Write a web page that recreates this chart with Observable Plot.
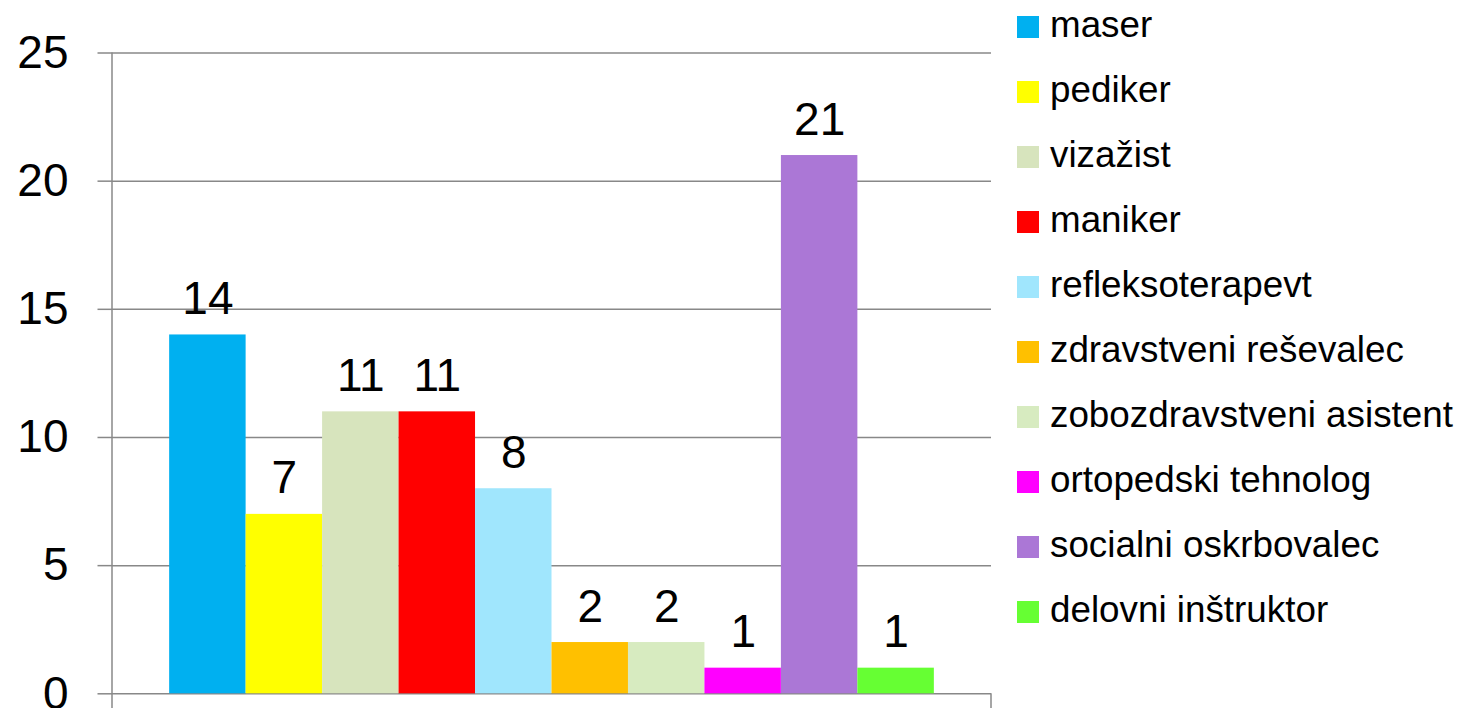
<!DOCTYPE html>
<html>
<head>
<meta charset="utf-8">
<script src="https://cdn.jsdelivr.net/npm/d3@7"></script>
<script src="https://cdn.jsdelivr.net/npm/@observablehq/plot@0.6"></script>
<style>
  html, body { margin: 0; padding: 0; background: #fff; }
  #wrap { position: relative; width: 1461px; height: 708px; overflow: hidden; font-family: "Liberation Sans", Arial, sans-serif; }
  #legend { position: absolute; left: 1017px; top: 16px; }
  .row { position: relative; height: 65px; }
  .sw { position: absolute; left: 0; top: 0; width: 22px; height: 22px; }
  .lab { position: absolute; left: 33px; top: -9px; font-size: 36.8px; line-height: 36.8px; white-space: nowrap; color: #000; }
</style>
</head>
<body>
<div id="wrap"><div id="chart"></div><div id="legend"></div></div>
<script>
const categories = ["maser", "pediker", "vizažist", "maniker", "refleksoterapevt", "zdravstveni reševalec", "zobozdravstveni asistent", "ortopedski tehnolog", "socialni oskrbovalec", "delovni inštruktor"];
const values = [14, 7, 11, 11, 8, 2, 2, 1, 21, 1];
const colors = ["#00B0F0", "#FFFF00", "#D7E4BD", "#FF0000", "#A0E6FD", "#FFC000", "#D7EBC0", "#FF00FF", "#AB77D6", "#66FF33"];
const yTicks = [0, 5, 10, 15, 20, 25];

const data = categories.map((c, i) => ({category: c, value: values[i]}));
const grey = "#888888";

const frameLines = (index, scales, values, dims) => {
  const g = d3.create("svg:g").attr("stroke", grey).attr("stroke-width", 1.5);
  const xl = dims.marginLeft, xr = dims.width - dims.marginRight;
  g.append("line").attr("x1", xl).attr("x2", xl).attr("y1", scales.y(25)).attr("y2", dims.height);
  g.append("line").attr("x1", xr).attr("x2", xr).attr("y1", scales.y(0)).attr("y2", dims.height);
  return g.node();
};

const chart = Plot.plot({
  width: 1461,
  height: 708,
  marginLeft: 112,
  marginRight: 470,
  marginTop: 52.5,
  marginBottom: 14.7,
  style: {fontFamily: "'Liberation Sans', Arial, sans-serif", background: "transparent", overflow: "visible"},
  x: {domain: categories, paddingInner: 0, paddingOuter: 0.7474, round: false, axis: null},
  y: {domain: [0, 25], axis: null},
  color: {domain: categories, range: colors},
  marks: [
    Plot.ruleY(yTicks, {stroke: grey, strokeWidth: 1.5}),
    Plot.barY(data, {x: "category", y: "value", fill: "category"}),
    Plot.axisY(yTicks, {anchor: "left", tickSize: 14.5, tickPadding: 29.5, stroke: grey, strokeWidth: 1.5, fill: "#000", fontSize: 46, label: null, tickFormat: d => String(d)}),
    frameLines,
    Plot.text(data, {x: "category", y: "value", text: d => String(d.value), lineAnchor: "bottom", dy: -21, fontSize: 46, fill: "#000"})
  ]
});
document.getElementById("chart").appendChild(chart);

const legend = document.getElementById("legend");
categories.forEach((c, i) => {
  const row = document.createElement("div");
  row.className = "row";
  const sw = document.createElement("div");
  sw.className = "sw";
  sw.style.background = colors[i];
  const lab = document.createElement("span");
  lab.className = "lab";
  lab.textContent = c;
  row.appendChild(sw);
  row.appendChild(lab);
  legend.appendChild(row);
});
</script>
</body>
</html>
